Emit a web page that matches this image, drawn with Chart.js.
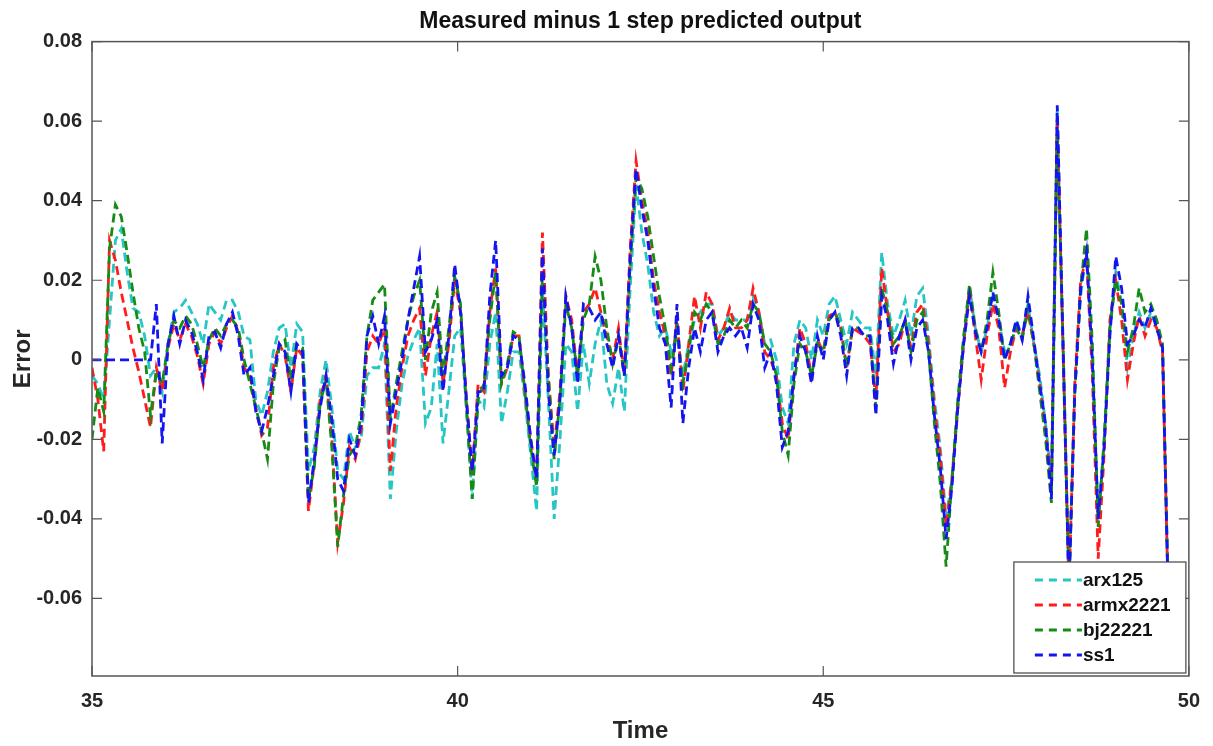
<!DOCTYPE html>
<html>
<head>
<meta charset="utf-8">
<script src="https://cdn.jsdelivr.net/npm/chart.js@4.4.0/dist/chart.umd.min.js"></script>
<style>
  body { margin: 0; background: #fff; }
  #wrap { width: 1213px; height: 746px; }
</style>
</head>
<body>
<div id="wrap"><canvas id="grafico"></canvas></div>
<script>
// sample clock of the simulation (35 s .. 49.72 s)
var tStart = 35, tStep = 0.08, nSamples = 185;

var seriesNames = ['arx125', 'armx2221', 'bj22221', 'ss1'];
var seriesColors = ['#26c6c4', '#ff1c1c', '#168c16', '#1414f0'];

var yTicks = [-0.06, -0.04, -0.02, 0, 0.02, 0.04, 0.06, 0.08];
var xTicks = [35, 40, 45, 50];

var arx125 = [
  -0.004, -0.006, -0.010, 0.010, 0.030, 0.033, 0.022, 0.013, 0.012, 0.006,
  -0.004, -0.002, -0.008, 0.004, 0.012, 0.013, 0.015, 0.012, 0.009, 0.004,
  0.014, 0.012, 0.010, 0.015, 0.015, 0.012, 0.006, 0.005, -0.010, -0.014,
  -0.008, 0.002, 0.008, 0.009, -0.002, 0.009, 0.007, -0.028, -0.022, -0.008,
  0.000, -0.012, -0.028, -0.030, -0.018, -0.022, -0.020, -0.004, -0.002, -0.002,
  0.004, -0.035, -0.018, -0.006, 0.001, 0.005, 0.008, -0.016, -0.012, 0.004,
  -0.021, -0.008, 0.006, 0.008, -0.012, -0.035, -0.010, -0.012, 0.004, 0.012,
  -0.016, -0.008, 0.002, 0.002, -0.010, -0.024, -0.038, 0.018, -0.010, -0.040,
  -0.020, 0.004, 0.002, -0.013, 0.004, -0.006, 0.004, 0.010, -0.006, -0.011,
  -0.002, -0.013, 0.018, 0.044, 0.032, 0.024, 0.012, 0.006, 0.008, 0.002,
  0.006, -0.004, 0.004, 0.010, 0.012, 0.014, 0.014, 0.006, 0.008, 0.012,
  0.010, 0.010, 0.010, 0.016, 0.012, 0.004, 0.005, 0.000, -0.012, -0.016,
  0.004, 0.010, 0.008, 0.000, 0.010, 0.006, 0.014, 0.016, 0.010, 0.004,
  0.012, 0.010, 0.008, 0.008, -0.004, 0.027, 0.014, 0.006, 0.010, 0.015,
  0.006, 0.016, 0.018, 0.006, -0.010, -0.022, -0.040, -0.030, -0.012, 0.004,
  0.018, 0.008, 0.002, 0.008, 0.016, 0.010, 0.002, 0.004, 0.010, 0.006,
  0.014, 0.004, -0.004, -0.016, -0.030, 0.063, 0.002, -0.058, -0.008, 0.016,
  0.028, 0.000, -0.040, -0.022, 0.008, 0.022, 0.014, -0.002, 0.006, 0.012,
  0.008, 0.012, 0.008, 0.003, -0.062
];

var armx2221 = [
  -0.002, -0.010, -0.023, 0.030, 0.025, 0.017, 0.010, 0.003, -0.003, -0.010,
  -0.017, -0.002, -0.008, 0.003, 0.009, 0.005, 0.009, 0.006, 0.001, -0.006,
  0.004, 0.007, 0.004, 0.008, 0.011, 0.007, -0.002, -0.004, -0.012, -0.019,
  -0.017, -0.002, 0.004, 0.001, -0.008, 0.003, 0.001, -0.038, -0.026, -0.010,
  -0.004, -0.020, -0.046, -0.036, -0.022, -0.025, -0.018, 0.002, 0.006, 0.004,
  0.008, -0.028, -0.012, -0.002, 0.006, 0.010, 0.013, -0.004, 0.006, 0.012,
  -0.006, 0.004, 0.020, 0.012, -0.010, -0.029, -0.006, -0.008, 0.012, 0.023,
  -0.006, -0.002, 0.006, 0.006, -0.008, -0.020, -0.030, 0.032, -0.004, -0.022,
  -0.008, 0.016, 0.010, -0.004, 0.012, 0.014, 0.018, 0.012, 0.006, 0.000,
  0.008, -0.004, 0.028, 0.050, 0.040, 0.032, 0.020, 0.012, 0.006, -0.004,
  0.010, -0.008, 0.004, 0.016, 0.008, 0.017, 0.014, 0.005, 0.008, 0.013,
  0.008, 0.008, 0.010, 0.018, 0.012, 0.002, 0.000, -0.004, -0.016, -0.020,
  -0.004, 0.008, 0.004, -0.004, 0.005, 0.002, 0.011, 0.012, 0.008, -0.002,
  0.008, 0.007, 0.006, 0.004, -0.010, 0.023, 0.012, 0.002, 0.004, 0.010,
  0.003, 0.012, 0.014, 0.004, -0.012, -0.024, -0.042, -0.030, -0.012, 0.004,
  0.018, 0.006, -0.005, 0.006, 0.014, 0.008, -0.007, 0.002, 0.008, 0.006,
  0.012, 0.004, -0.006, -0.018, -0.032, 0.061, 0.002, -0.058, -0.006, 0.020,
  0.026, -0.004, -0.050, -0.024, 0.010, 0.020, 0.010, -0.005, 0.004, 0.011,
  0.006, 0.010, 0.008, 0.002, -0.062
];

var bj22221 = [
  -0.020, -0.007, -0.013, 0.028, 0.039, 0.036, 0.027, 0.017, 0.008, 0.002,
  -0.014, -0.003, -0.006, 0.004, 0.010, 0.008, 0.011, 0.009, 0.004, -0.002,
  0.005, 0.008, 0.006, 0.009, 0.010, 0.008, 0.000, -0.006, -0.012, -0.018,
  -0.025, -0.006, 0.003, 0.005, -0.005, 0.004, 0.003, -0.035, -0.027, -0.011,
  -0.005, -0.022, -0.047, -0.034, -0.024, -0.022, -0.014, 0.006, 0.015, 0.017,
  0.019, -0.015, -0.006, 0.002, 0.010, 0.016, 0.020, 0.000, 0.012, 0.017,
  -0.004, 0.008, 0.021, 0.014, -0.012, -0.035, -0.010, -0.006, 0.010, 0.022,
  -0.006, -0.001, 0.007, 0.006, -0.008, -0.022, -0.032, 0.022, -0.004, -0.025,
  -0.010, 0.014, 0.008, -0.004, 0.010, 0.014, 0.026, 0.020, 0.008, -0.001,
  0.006, -0.004, 0.024, 0.046, 0.043, 0.036, 0.026, 0.016, 0.008, -0.002,
  0.008, -0.006, 0.002, 0.012, 0.010, 0.014, 0.012, 0.004, 0.006, 0.010,
  0.008, 0.010, 0.008, 0.014, 0.012, 0.004, 0.002, -0.004, -0.018, -0.024,
  -0.006, 0.004, 0.002, -0.004, 0.004, 0.002, 0.010, 0.012, 0.008, -0.002,
  0.008, 0.008, 0.006, 0.006, -0.012, 0.018, 0.012, 0.004, 0.006, 0.010,
  0.002, 0.010, 0.012, 0.002, -0.016, -0.031, -0.052, -0.030, -0.010, 0.006,
  0.019, 0.008, 0.002, 0.010, 0.022, 0.012, 0.000, 0.004, 0.008, 0.005,
  0.013, 0.004, -0.008, -0.020, -0.036, 0.058, 0.004, -0.056, -0.008, 0.018,
  0.033, 0.004, -0.042, -0.020, 0.008, 0.020, 0.014, 0.002, 0.008, 0.018,
  0.012, 0.014, 0.010, 0.004, -0.060
];

var ss1 = [
  0, 0, 0, 0, 0, 0, 0, 0, 0, 0,
  0, 0.014, -0.021, 0.004, 0.011, 0.004, 0.010, 0.007, 0.002, -0.005,
  0.006, 0.007, 0.003, 0.009, 0.012, 0.006, -0.004, -0.002, -0.013, -0.018,
  -0.012, -0.004, 0.004, 0.002, -0.008, 0.004, 0.002, -0.036, -0.025, -0.012,
  -0.004, -0.015, -0.030, -0.033, -0.020, -0.024, -0.016, 0.006, 0.011, 0.004,
  0.011, -0.016, -0.008, 0.000, 0.010, 0.018, 0.026, 0.002, 0.005, 0.010,
  -0.008, 0.006, 0.024, 0.012, -0.010, -0.028, -0.008, -0.008, 0.016, 0.030,
  -0.004, -0.002, 0.006, 0.005, -0.006, -0.020, -0.030, 0.028, -0.008, -0.024,
  -0.010, 0.016, 0.008, -0.006, 0.014, 0.013, 0.010, 0.012, 0.004, -0.002,
  0.006, -0.004, 0.026, 0.048, 0.038, 0.030, 0.018, 0.008, 0.004, -0.012,
  0.014, -0.016, -0.002, 0.008, 0.002, 0.010, 0.012, 0.002, 0.006, 0.008,
  0.006, 0.008, 0.003, 0.014, 0.010, -0.002, 0.002, -0.006, -0.022, -0.018,
  -0.004, 0.006, 0.002, -0.006, 0.006, 0.000, 0.010, 0.012, 0.006, -0.004,
  0.008, 0.008, 0.006, 0.006, -0.014, 0.016, 0.010, -0.001, 0.006, 0.010,
  0.000, 0.008, 0.010, 0.002, -0.014, -0.027, -0.045, -0.032, -0.012, 0.004,
  0.016, 0.007, 0.002, 0.008, 0.017, 0.010, 0.000, 0.004, 0.010, 0.005,
  0.016, 0.005, -0.006, -0.016, -0.035, 0.064, 0.003, -0.058, -0.008, 0.018,
  0.027, 0.000, -0.040, -0.022, 0.006, 0.026, 0.018, 0.004, 0.006, 0.010,
  0.008, 0.013, 0.008, 0.003, -0.062
];

var fonte = "'Liberation Sans', Arial, sans-serif";
var corTexto = '#262626';

var tempos = [];
for (var i = 0; i < nSamples; i++) {
    tempos.push(Math.round((tStart + i * tStep) * 100) / 100);
}

function montaSerie(valores) {
    var pontos = [];
    for (var i = 0; i < valores.length; i++) {
        pontos.push({ x: tempos[i], y: valores[i] });
    }
    return pontos;
}

var todasSeries = [arx125, armx2221, bj22221, ss1];
var sets = [];
for (var k = 0; k < todasSeries.length; k++) {
    sets.push({
        label: seriesNames[k],
        data: montaSerie(todasSeries[k]),
        borderColor: seriesColors[k],
        backgroundColor: seriesColors[k],
        borderWidth: 2.8,
        borderDash: [9, 5],
        pointRadius: 0,
        tension: 0,
        fill: false,
        order: todasSeries.length - k   // ss1 on top, like matlab
    });
}

// box, inward ticks and the matlab style legend
var caixaMatlab = {
    id: 'caixaMatlab',
    afterDatasetsDraw: function(chart) {
        var ctx = chart.ctx;
        var a = chart.chartArea;
        var xs = chart.scales.x, ys = chart.scales.y;
        var tl = 10;
        ctx.save();
        ctx.setLineDash([]);
        ctx.strokeStyle = '#555';
        ctx.lineWidth = 1.5;
        ctx.strokeRect(a.left, a.top, a.right - a.left, a.bottom - a.top);
        ctx.beginPath();
        xs.ticks.forEach(function(t) {
            var px = xs.getPixelForValue(t.value);
            ctx.moveTo(px, a.bottom); ctx.lineTo(px, a.bottom - tl);
            ctx.moveTo(px, a.top); ctx.lineTo(px, a.top + tl);
        });
        ys.ticks.forEach(function(t) {
            var py = ys.getPixelForValue(t.value);
            ctx.moveTo(a.left, py); ctx.lineTo(a.left + tl, py);
            ctx.moveTo(a.right, py); ctx.lineTo(a.right - tl, py);
        });
        ctx.lineWidth = 1.2;
        ctx.stroke();

        // legend
        var lw = 172, lh = 111;
        var lx = a.right - lw - 3, ly = a.bottom - lh - 3;
        ctx.fillStyle = '#fff';
        ctx.fillRect(lx, ly, lw, lh);
        ctx.strokeStyle = '#444';
        ctx.lineWidth = 1.2;
        ctx.strokeRect(lx, ly, lw, lh);
        ctx.font = 'bold 19px ' + fonte;
        ctx.textBaseline = 'middle';
        ctx.textAlign = 'left';
        chart.data.datasets.forEach(function(ds, i) {
            var ry = ly + 18 + i * 25;
            ctx.beginPath();
            ctx.setLineDash([8, 6]);
            ctx.strokeStyle = ds.borderColor;
            ctx.lineWidth = 2.8;
            ctx.moveTo(lx + 21, ry);
            ctx.lineTo(lx + 68, ry);
            ctx.stroke();
            ctx.setLineDash([]);
            ctx.fillStyle = '#111';
            ctx.fillText(ds.label, lx + 69, ry + 1);
        });
        ctx.restore();
    }
};

var $canvas = document.getElementById('grafico').getContext('2d');
var grafico = new Chart($canvas, {
    type: 'line',
    data: { datasets: sets },
    options: {
        responsive: true,
        maintainAspectRatio: false,
        animation: false,
        layout: { padding: { right: 23, left: 0, top: 0, bottom: 0 } },
        plugins: {
            legend: { display: false },
            tooltip: { enabled: false },
            title: {
                display: true,
                fullSize: false,
                text: 'Measured minus 1 step predicted output',
                color: '#111',
                font: { family: fonte, size: 23, weight: 'bold' },
                padding: { top: 8, bottom: 6 }
            }
        },
        scales: {
            x: {
                type: 'linear',
                min: 35,
                max: 50,
                afterFit: function(s) { s.height = 70; },
                afterBuildTicks: function(s) {
                    s.ticks = xTicks.map(function(v) { return { value: v }; });
                },
                grid: { display: false, drawTicks: false },
                border: { display: false },
                ticks: {
                    color: corTexto,
                    padding: 13,
                    maxRotation: 0,
                    font: { family: fonte, size: 20, weight: 'bold' }
                },
                title: {
                    display: true,
                    text: 'Time',
                    color: corTexto,
                    padding: { top: 0, bottom: 0 },
                    font: { family: fonte, size: 24, weight: 'bold' }
                }
            },
            y: {
                min: -0.0795,
                max: 0.08,
                afterFit: function(s) { s.width = 92; },
                afterBuildTicks: function(s) {
                    s.ticks = yTicks.map(function(v) { return { value: v }; });
                },
                grid: { display: false, drawTicks: false },
                border: { display: false },
                ticks: {
                    color: corTexto,
                    padding: 10,
                    font: { family: fonte, size: 20, weight: 'bold' },
                    callback: function(v) { return v === 0 ? '0' : v.toFixed(2); }
                },
                title: {
                    display: true,
                    text: 'Error',
                    color: corTexto,
                    padding: { top: 9, bottom: 0 },
                    font: { family: fonte, size: 24, weight: 'bold' }
                }
            }
        }
    },
    plugins: [caixaMatlab]
});
</script>
</body>
</html>
